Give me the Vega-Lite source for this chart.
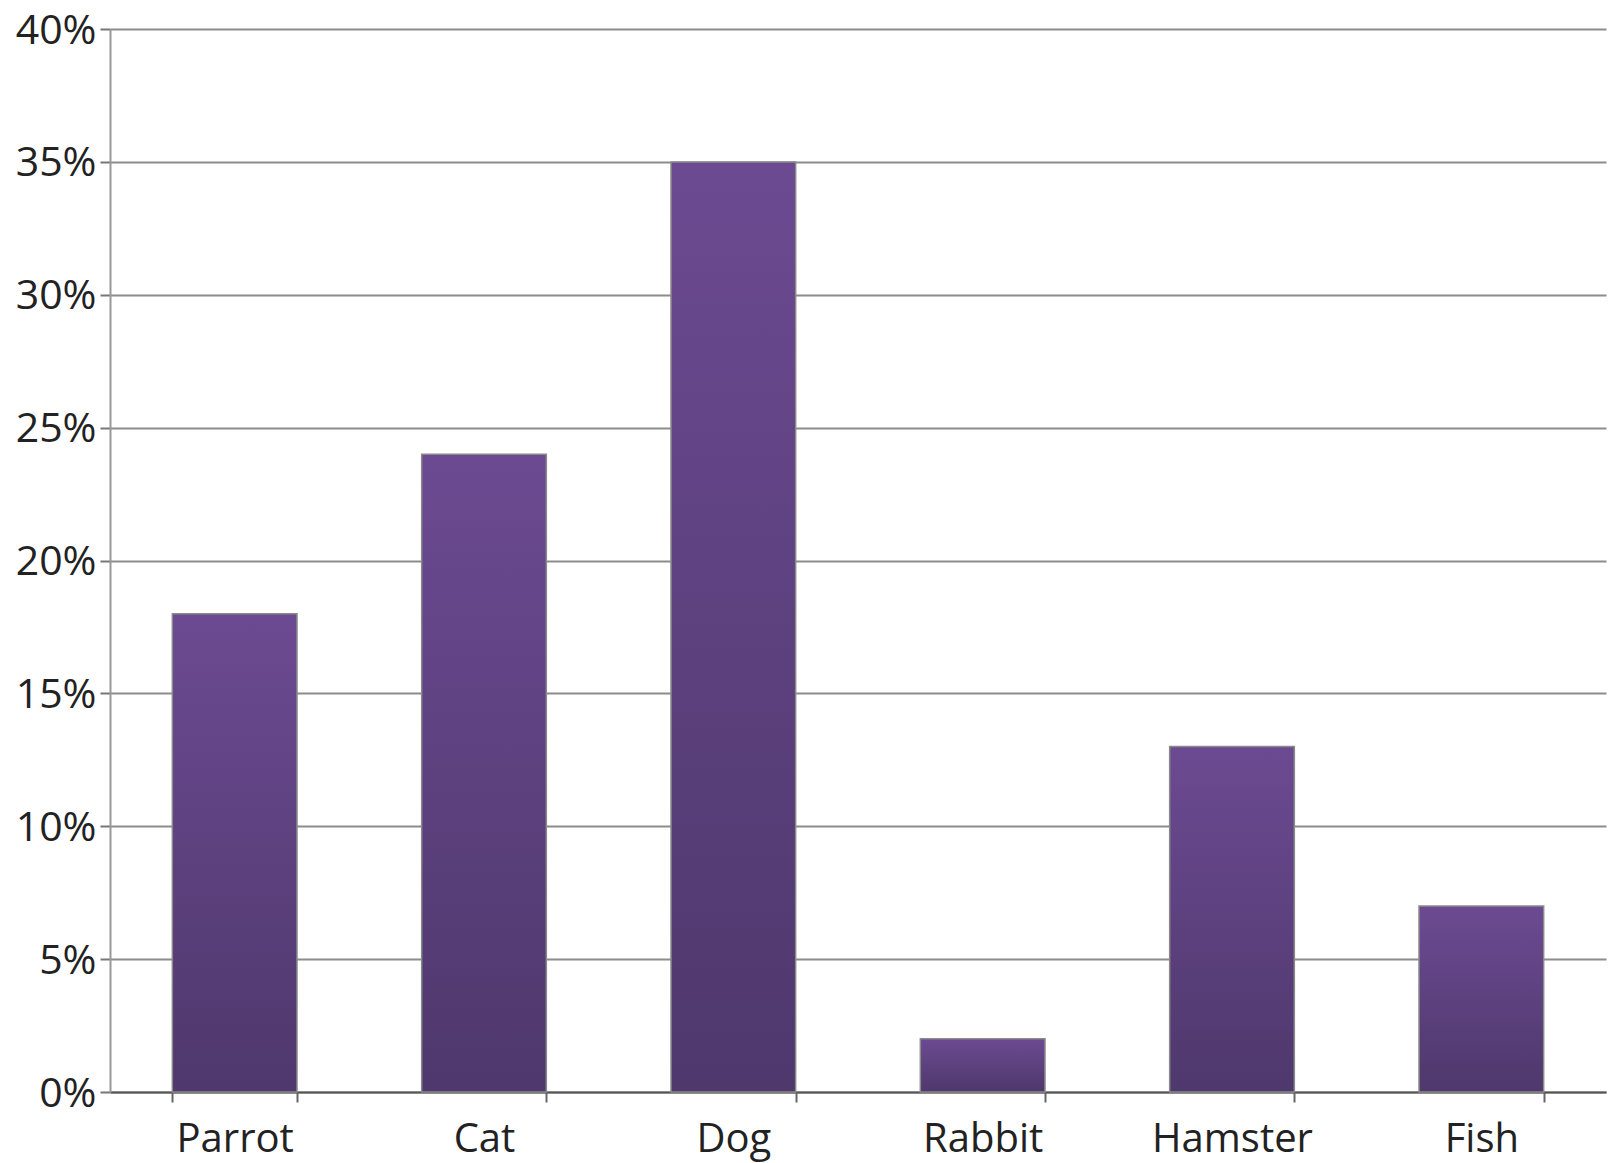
{
  "$schema": "https://vega.github.io/schema/vega-lite/v6.json",
  "autosize": "none",
  "width": 1496,
  "height": 1063,
  "padding": {"left": 110, "top": 29, "right": 4, "bottom": 71},
  "background": "white",
  "data": {"values": [
    {"pet": "Parrot", "share": 0.18},
    {"pet": "Cat", "share": 0.24},
    {"pet": "Dog", "share": 0.35},
    {"pet": "Rabbit", "share": 0.02},
    {"pet": "Hamster", "share": 0.13},
    {"pet": "Fish", "share": 0.07}
  ]},
  "config": {
    "view": {"stroke": null},
    "font": "Open Sans"
  },
  "mark": {
    "type": "bar",
    "stroke": "#8a8a8a",
    "strokeWidth": 1.5,
    "color": {
      "gradient": "linear",
      "x1": 0, "y1": 0, "x2": 0, "y2": 1,
      "stops": [
        {"offset": 0, "color": "#6c4a92"},
        {"offset": 1, "color": "#4e386c"}
      ]
    }
  },
  "encoding": {
    "x": {
      "field": "pet",
      "type": "nominal",
      "sort": null,
      "scale": {"paddingInner": 0.5, "paddingOuter": 0.25},
      "axis": {
        "title": null,
        "labelAngle": 0,
        "labelFontSize": 40,
        "labelColor": "#222222",
        "labelPadding": 17,
        "domainColor": "#555555",
        "domainWidth": 2,
        "tickColor": "#666666",
        "tickWidth": 2,
        "tickSize": 10,
        "tickBand": "extent",
        "grid": false
      }
    },
    "y": {
      "field": "share",
      "type": "quantitative",
      "scale": {"domain": [0, 0.4], "nice": false},
      "axis": {
        "title": null,
        "format": ".0%",
        "values": [0, 0.05, 0.1, 0.15, 0.2, 0.25, 0.3, 0.35, 0.4],
        "labelFontSize": 41,
        "labelColor": "#222222",
        "labelPadding": 4,
        "labelOffset": 2,
        "labelFlush": false,
        "tickSize": 10,
        "tickColor": "#777777",
        "tickWidth": 2,
        "domainColor": "#999999",
        "domainWidth": 2,
        "gridColor": "#8c8c8c",
        "gridWidth": 2,
        "gridOpacity": 1
      }
    }
  }
}
